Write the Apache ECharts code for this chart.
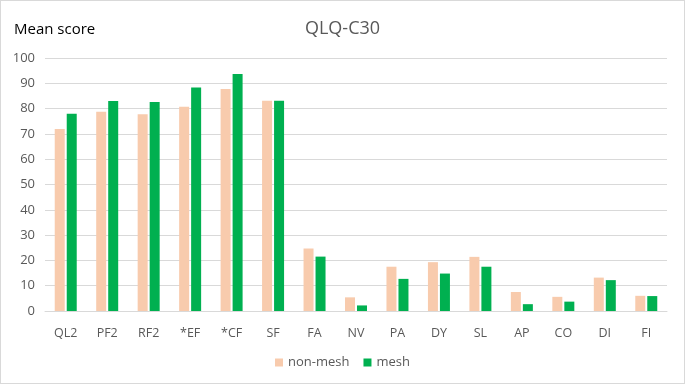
<!DOCTYPE html>
<html>
<head>
<meta charset="utf-8">
<script src="https://cdn.jsdelivr.net/npm/echarts@6/dist/echarts.min.js"></script>
<style>
  html, body { margin: 0; padding: 0; background: #fff; }
  #chart { width: 683px; height: 382px; border: 1px solid #d9d9d9; }
</style>
</head>
<body>
<div id="chart"></div>
<script>
const categories = ['QL2', 'PF2', 'RF2', '*EF', '*CF', 'SF', 'FA', 'NV', 'PA', 'DY', 'SL', 'AP', 'CO', 'DI', 'FI'];
const nonMesh = [71.9, 78.8, 77.8, 80.7, 87.7, 83.1, 24.7, 5.4, 17.5, 19.3, 21.4, 7.5, 5.6, 13.2, 6.0];
const mesh = [78.0, 83.0, 82.6, 88.3, 93.7, 83.1, 21.5, 2.2, 12.7, 14.8, 17.5, 2.7, 3.7, 12.2, 5.9];

const font = '"Open Sans", "Liberation Sans", sans-serif';
const chart = echarts.init(document.getElementById('chart'));
chart.setOption({
  animation: false,
  title: [
    { text: 'QLQ-C30', left: 'center', top: 14, textStyle: { fontFamily: font, fontSize: 18, fontWeight: 'normal', color: '#595959' } },
    { text: 'Mean score', left: 8, top: 16, textStyle: { fontFamily: font, fontSize: 15, fontWeight: 'normal', color: '#000' } }
  ],
  legend: {
    bottom: 9,
    left: 'center',
    itemWidth: 8,
    itemHeight: 8,
    itemGap: 14,
    icon: 'rect',
    textStyle: { fontFamily: font, fontSize: 13, color: '#595959' },
    data: ['non-mesh', 'mesh']
  },
  grid: { left: 44, right: 17, top: 57, bottom: 72 },
  xAxis: {
    type: 'category',
    data: categories,
    axisLine: { lineStyle: { color: '#d9d9d9' } },
    axisTick: { show: false },
    axisLabel: { fontFamily: font, fontSize: 12.5, color: '#595959', margin: 16 }
  },
  yAxis: {
    type: 'value',
    min: 0,
    max: 100,
    interval: 10,
    axisLine: { show: false },
    axisTick: { show: false },
    splitLine: { lineStyle: { color: '#d9d9d9' } },
    axisLabel: { fontFamily: font, fontSize: 13, color: '#595959', margin: 10 }
  },
  series: [
    { name: 'non-mesh', type: 'bar', data: nonMesh, barWidth: 10, barGap: '20%', itemStyle: { color: '#f8cbad' } },
    { name: 'mesh', type: 'bar', data: mesh, barWidth: 10, itemStyle: { color: '#00b050' } }
  ]
});
</script>
</body>
</html>
